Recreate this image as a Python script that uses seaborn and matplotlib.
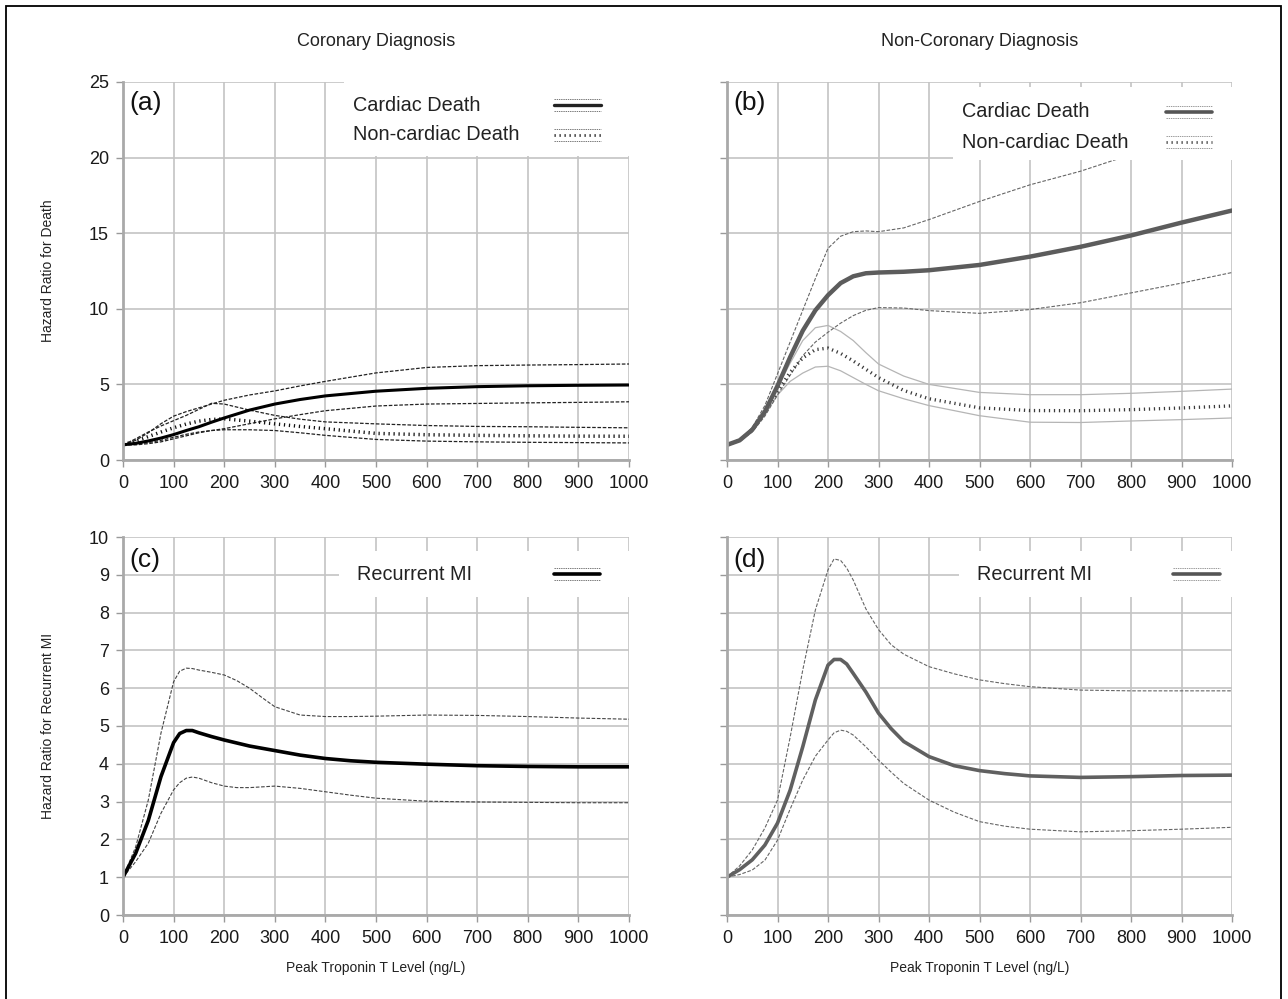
import numpy as np
import pandas as pd
import matplotlib
matplotlib.use('Agg')
import matplotlib.pyplot as plt
import seaborn as sns
from matplotlib.patches import Rectangle

sns.set_style('white')
plt.rcParams['font.family'] = ['Liberation Sans', 'DejaVu Sans']
plt.rcParams['lines.scale_dashes'] = False

# ---- datos ----
# (a) diagnostico coronario, muerte
x_a = [0, 25, 50, 75, 100, 125, 150, 175, 200, 250, 300, 350, 400, 500, 600, 700, 800, 900, 1000]
a_card = [1.0, 1.1, 1.26, 1.45, 1.68, 1.95, 2.2, 2.5, 2.78, 3.3, 3.7, 4.0, 4.24, 4.55, 4.74, 4.85, 4.91, 4.94, 4.96]
a_card_hi = [1.0, 1.3, 1.8, 2.4, 2.9, 3.2, 3.45, 3.7, 3.95, 4.3, 4.57, 4.9, 5.2, 5.76, 6.12, 6.24, 6.28, 6.31, 6.35]
a_card_lo = [1.0, 1.0, 1.08, 1.2, 1.4, 1.6, 1.8, 1.95, 2.07, 2.4, 2.72, 3.0, 3.26, 3.57, 3.7, 3.74, 3.78, 3.81, 3.85]
a_nonc = [1.0, 1.25, 1.55, 1.85, 2.13, 2.38, 2.57, 2.68, 2.72, 2.57, 2.39, 2.22, 2.07, 1.76, 1.67, 1.63, 1.6, 1.58, 1.57]
a_nonc_hi = [1.0, 1.4, 1.85, 2.25, 2.6, 2.95, 3.35, 3.75, 3.7, 3.3, 2.95, 2.7, 2.52, 2.39, 2.28, 2.22, 2.2, 2.16, 2.13]
a_nonc_lo = [1.0, 1.05, 1.15, 1.3, 1.5, 1.7, 1.85, 1.95, 2.0, 2.0, 1.95, 1.8, 1.63, 1.36, 1.25, 1.2, 1.17, 1.15, 1.13]

# (b) diagnostico no coronario, muerte
x_b = [0, 25, 50, 75, 100, 125, 150, 175, 200, 225, 250, 275, 300, 350, 400, 500, 600, 700, 800, 900, 1000]
b_card = [1.0, 1.3, 2.0, 3.2, 4.9, 6.8, 8.55, 9.9, 10.9, 11.7, 12.15, 12.35, 12.4, 12.45, 12.55, 12.9, 13.45, 14.1, 14.85, 15.7, 16.5]
b_card_hi = [1.0, 1.35, 2.15, 3.6, 5.7, 7.8, 9.9, 12.0, 14.0, 14.8, 15.1, 15.15, 15.1, 15.35, 15.9, 17.1, 18.2, 19.1, 20.2, 21.3, 22.4]
b_card_lo = [1.0, 1.25, 1.85, 2.9, 4.3, 5.6, 6.9, 7.8, 8.45, 9.05, 9.55, 9.9, 10.08, 10.05, 9.88, 9.7, 9.95, 10.4, 11.05, 11.7, 12.4]
b_nonc = [1.0, 1.3, 2.0, 3.2, 4.55, 5.8, 6.75, 7.3, 7.4, 7.05, 6.55, 6.0, 5.45, 4.6, 4.05, 3.45, 3.27, 3.26, 3.33, 3.44, 3.58]
b_nonc_hi = [1.0, 1.35, 2.1, 3.3, 4.8, 6.4, 7.9, 8.75, 8.9, 8.5, 7.9, 7.1, 6.35, 5.55, 5.0, 4.47, 4.32, 4.32, 4.41, 4.54, 4.69]
b_nonc_lo = [1.0, 1.3, 1.95, 3.0, 4.3, 5.2, 5.75, 6.15, 6.2, 5.9, 5.45, 5.0, 4.58, 4.05, 3.6, 2.93, 2.5, 2.48, 2.58, 2.67, 2.78]

# (c) diagnostico coronario, IAM recurrente
x_c = [0, 25, 50, 75, 100, 112, 125, 137, 150, 175, 200, 225, 250, 275, 300, 350, 400, 450, 500, 600, 700, 800, 900, 1000]
c_mi = [1.0, 1.63, 2.5, 3.66, 4.56, 4.8, 4.88, 4.88, 4.82, 4.72, 4.63, 4.55, 4.47, 4.41, 4.35, 4.23, 4.14, 4.08, 4.04, 3.99, 3.95, 3.93, 3.92, 3.92]
c_mi_hi = [1.0, 1.8, 3.04, 4.81, 6.17, 6.45, 6.53, 6.52, 6.48, 6.42, 6.35, 6.2, 6.0, 5.75, 5.51, 5.29, 5.25, 5.25, 5.26, 5.29, 5.28, 5.25, 5.21, 5.18]
c_mi_lo = [1.0, 1.41, 1.9, 2.69, 3.31, 3.5, 3.62, 3.65, 3.62, 3.5, 3.41, 3.37, 3.37, 3.39, 3.41, 3.35, 3.26, 3.17, 3.09, 3.01, 2.99, 2.98, 2.97, 2.97]

# (d) diagnostico no coronario, IAM recurrente
x_d = [0, 25, 50, 75, 100, 125, 150, 175, 200, 212, 225, 237, 250, 275, 300, 325, 350, 400, 450, 500, 550, 600, 700, 800, 900, 1000]
d_mi = [1.0, 1.2, 1.46, 1.85, 2.43, 3.3, 4.45, 5.69, 6.61, 6.76, 6.76, 6.64, 6.39, 5.9, 5.34, 4.93, 4.59, 4.19, 3.95, 3.82, 3.74, 3.68, 3.64, 3.66, 3.69, 3.7]
d_mi_hi = [1.0, 1.3, 1.72, 2.3, 3.04, 4.7, 6.48, 8.07, 9.13, 9.42, 9.38, 9.18, 8.86, 8.1, 7.55, 7.15, 6.9, 6.57, 6.38, 6.22, 6.12, 6.04, 5.95, 5.93, 5.93, 5.93]
d_mi_lo = [1.0, 1.07, 1.19, 1.45, 1.98, 2.8, 3.57, 4.2, 4.63, 4.82, 4.89, 4.86, 4.76, 4.45, 4.1, 3.78, 3.48, 3.04, 2.72, 2.47, 2.35, 2.27, 2.2, 2.23, 2.27, 2.32]

titulos = ['Coronary Diagnosis', 'Non-Coronary Diagnosis']
etiqueta_x = 'Peak Troponin T Level (ng/L)'
etiquetas_y = ['Hazard Ratio for Death', 'Hazard Ratio for Recurrent MI']

DASH = (0, (2.6, 1.2))
DOT = (0, (0.9, 2.7))
W, H = 1288, 999


def estilo_ejes(ax, ymax, ystep, con_etiquetas):
    ax.set_xlim(0, 1000)
    ax.set_ylim(0, ymax)
    ax.set_xticks(range(0, 1001, 100))
    ax.set_yticks(np.arange(0, ymax + 0.01, ystep))
    ax.grid(True, color='#c4c4c4', lw=1.2)
    ax.set_axisbelow(True)
    for s in ['top', 'right']:
        ax.spines[s].set_visible(False)
    for s in ['left', 'bottom']:
        ax.spines[s].set_color('#a9a9a9')
        ax.spines[s].set_linewidth(2)
    ax.tick_params(bottom=True, left=True, direction='out', length=5, width=1,
                   color='#999999', labelsize=13, labelcolor='#1a1a1a')
    ax.tick_params(axis='x', pad=6)
    ax.tick_params(axis='y', pad=5)
    ax.set_yticklabels([f'{v:g}' for v in ax.get_yticks()] if con_etiquetas else [])
    ax.set_xlabel('')
    ax.set_ylabel('')


def linea(ax, x, y, color, lw, ls='-'):
    sns.lineplot(x=x, y=y, ax=ax, color=color, linewidth=lw, linestyle=ls,
                 errorbar=None, sort=False, zorder=2)


def leyenda(ax, caja, entradas, tx, lx0, lx1, dy):
    x0, y0, x1, y1 = caja
    ax.add_patch(Rectangle((x0, y0), x1 - x0, y1 - y0, facecolor='white',
                           edgecolor='none', zorder=3, clip_on=False))
    for (texto, ty, color, lw, ls, ci_color) in entradas:
        ax.text(tx, ty, texto, transform=ax.transAxes, fontsize=14.3,
                va='center', ha='left', color='#222222', zorder=5)
        ax.plot([lx0, lx1], [ty, ty], transform=ax.transAxes, color=color,
                lw=lw, ls=ls, zorder=5, clip_on=False)
        for d in (dy, -dy):
            ax.plot([lx0, lx1], [ty + d, ty + d], transform=ax.transAxes,
                    color=ci_color, lw=0.7, ls=(0, (1, 0.6)), zorder=5, clip_on=False)


fig = plt.figure(figsize=(W / 100, H / 100), dpi=100)

def caja_px(l, t, r, b):
    return [l / W, 1 - b / H, (r - l) / W, (b - t) / H]

ax_a = fig.add_axes(caja_px(123, 82, 629, 460))
ax_b = fig.add_axes(caja_px(727, 82, 1232, 460))
ax_c = fig.add_axes(caja_px(123, 537, 629, 915))
ax_d = fig.add_axes(caja_px(727, 537, 1232, 915))

# (a)
linea(ax_a, x_a, a_card_hi, '#222222', 0.9, DASH)
linea(ax_a, x_a, a_card_lo, '#222222', 0.9, DASH)
linea(ax_a, x_a, a_nonc_hi, '#222222', 0.9, DASH)
linea(ax_a, x_a, a_nonc_lo, '#222222', 0.9, DASH)
linea(ax_a, x_a, a_nonc, '#111111', 2.5, DOT)
linea(ax_a, x_a, a_card, '#000000', 2.2)
estilo_ejes(ax_a, 25, 5, True)
leyenda(ax_a, (436, 20.1, 1010, 25.0),
        [('Cardiac Death', 0.939, '#222222', 2.4, '-', '#777777'),
         ('Non-cardiac Death', 0.860, '#222222', 2.0, DOT, '#777777')],
        0.454, 0.852, 0.945, 0.016)

# (b)
linea(ax_b, x_b, b_nonc_hi, '#b5b5b5', 0.9)
linea(ax_b, x_b, b_nonc_lo, '#b5b5b5', 0.9)
linea(ax_b, x_b, b_card_hi, '#666666', 0.8, DASH)
linea(ax_b, x_b, b_card_lo, '#666666', 0.8, DASH)
linea(ax_b, x_b, b_nonc, '#3a3a3a', 2.4, DOT)
linea(ax_b, x_b, b_card, '#5c5c5c', 3.2)
estilo_ejes(ax_b, 25, 5, False)
leyenda(ax_b, (447, 19.84, 1010, 24.67),
        [('Cardiac Death', 0.921, '#555555', 2.6, '-', '#999999'),
         ('Non-cardiac Death', 0.841, '#444444', 2.0, DOT, '#999999')],
        0.465, 0.869, 0.960, 0.016)

# (c)
linea(ax_c, x_c, c_mi_hi, '#444444', 0.8, DASH)
linea(ax_c, x_c, c_mi_lo, '#444444', 0.8, DASH)
linea(ax_c, x_c, c_mi, '#000000', 2.6)
estilo_ejes(ax_c, 10, 1, True)
leyenda(ax_c, (426, 8.41, 1010, 9.63),
        [('Recurrent MI', 0.902, '#000000', 2.6, '-', '#777777')],
        0.462, 0.851, 0.942, 0.016)

# (d)
linea(ax_d, x_d, d_mi_hi, '#666666', 0.8, DASH)
linea(ax_d, x_d, d_mi_lo, '#666666', 0.8, DASH)
linea(ax_d, x_d, d_mi, '#606060', 2.6)
estilo_ejes(ax_d, 10, 1, False)
leyenda(ax_d, (459, 8.41, 1010, 9.63),
        [('Recurrent MI', 0.902, '#555555', 2.6, '-', '#999999')],
        0.495, 0.883, 0.976, 0.016)

for ax, lab, ly in [(ax_a, '(a)', 0.944), (ax_b, '(b)', 0.944),
                    (ax_c, '(c)', 0.939), (ax_d, '(d)', 0.939)]:
    ax.text(0.012, ly, lab, transform=ax.transAxes, fontsize=19,
            va='center', ha='left', color='#111111', zorder=6)

# titulos y etiquetas
fig.text(376 / W, 1 - 42 / H, titulos[0], ha='center', va='center', fontsize=13, color='#222222')
fig.text(980 / W, 1 - 42 / H, titulos[1], ha='center', va='center', fontsize=13, color='#222222')
fig.text(48 / W, 1 - 271 / H, etiquetas_y[0], rotation=90, ha='center', va='center',
         fontsize=10, color='#222222')
fig.text(48 / W, 1 - 726 / H, etiquetas_y[1], rotation=90, ha='center', va='center',
         fontsize=10, color='#222222')
fig.text(376 / W, 1 - 968 / H, etiqueta_x, ha='center', va='center', fontsize=10, color='#222222')
fig.text(980 / W, 1 - 968 / H, etiqueta_x, ha='center', va='center', fontsize=10, color='#222222')

# marco exterior
fig.add_artist(Rectangle((6 / W, -0.01), (1281 - 6) / W, 1 - 6 / H + 0.01,
                         transform=fig.transFigure, fill=False,
                         edgecolor='black', lw=1.3))

fig.savefig('out.png', dpi=100)
plt.close()
